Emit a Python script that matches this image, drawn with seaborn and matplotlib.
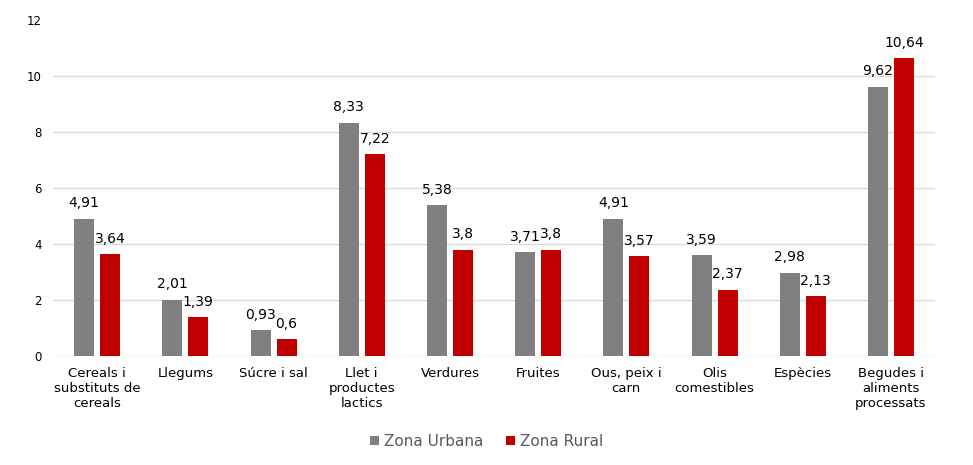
import matplotlib
matplotlib.use("Agg")
import matplotlib.pyplot as plt
import seaborn as sns
import pandas as pd
from matplotlib.patches import Patch

categories = ["Cereals i\nsubstituts de\ncereals", "Llegums", "Súcre i sal",
              "Llet i\nproductes\nlactics", "Verdures", "Fruites",
              "Ous, peix i\ncarn", "Olis\ncomestibles", "Espècies",
              "Begudes i\naliments\nprocessats"]
urbana = [4.91, 2.01, 0.93, 8.33, 5.38, 3.71, 4.91, 3.59, 2.98, 9.62]
rural = [3.64, 1.39, 0.6, 7.22, 3.8, 3.8, 3.57, 2.37, 2.13, 10.64]
series = ["Zona Urbana", "Zona Rural"]
colors = ["#808080", "#C00000"]
yticks = [0, 2, 4, 6, 8, 10, 12]

df = pd.DataFrame({
    "cat": categories * 2,
    "val": urbana + rural,
    "zona": [series[0]] * len(categories) + [series[1]] * len(categories),
})

sns.set_theme(style="white", font="DejaVu Sans")
plt.rcParams['font.family'] = ['DejaVu Sans']
plt.rcParams['font.sans-serif'] = ['DejaVu Sans']
FF = 'DejaVu Sans'

fig = plt.figure(figsize=(9.73, 4.65), dpi=100)
ax = fig.add_axes([0.0545, 0.2344, 0.9065, 0.7226])

sns.barplot(data=df, x="cat", y="val", hue="zona", palette=colors,
            width=0.59, gap=0.23, ax=ax, legend=False, saturation=1,
            linewidth=0, edgecolor="none")

def fmt(v):
    s = ("%.2f" % v).rstrip("0").rstrip(".")
    return s.replace(".", ",")

for cont in ax.containers:
    ax.bar_label(cont, labels=[fmt(b.get_height()) for b in cont],
                 padding=6, fontsize=10, color="#000000", fontfamily=FF)

ax.set_ylim(0, 12)
ax.set_yticks(yticks)
ax.set_yticklabels([str(t) for t in yticks], fontsize=8.5, color="#000000",
                   fontfamily=FF)
ax.set_xticks(range(len(categories)))
ax.set_xticklabels(categories, fontsize=9.5, color="#000000", fontfamily=FF)
ax.xaxis.set_tick_params(length=0, pad=8)
ax.yaxis.set_tick_params(length=0, pad=8)
ax.set_xlim(-0.5, len(categories) - 0.5)
ax.set_xlabel("")
ax.set_ylabel("")

for t in yticks[1:-1]:
    ax.axhline(t, color="#D9D9D9", lw=0.9, zorder=0)
ax.axhline(0, color="#D9D9D9", lw=1.0, zorder=0)

for s in ax.spines.values():
    s.set_visible(False)

handles = [Patch(facecolor=c, edgecolor="none", label=l) for c, l in zip(colors, series)]
fig.legend(handles=handles, loc="center", bbox_to_anchor=(0.5, 0.051),
           ncol=2, frameon=False, handlelength=0.6,
           handleheight=0.6, handletextpad=0.3, columnspacing=1.5,
           labelcolor="#595959", prop={'family': FF, 'size': 11})

fig.savefig("out.png", dpi=100)
